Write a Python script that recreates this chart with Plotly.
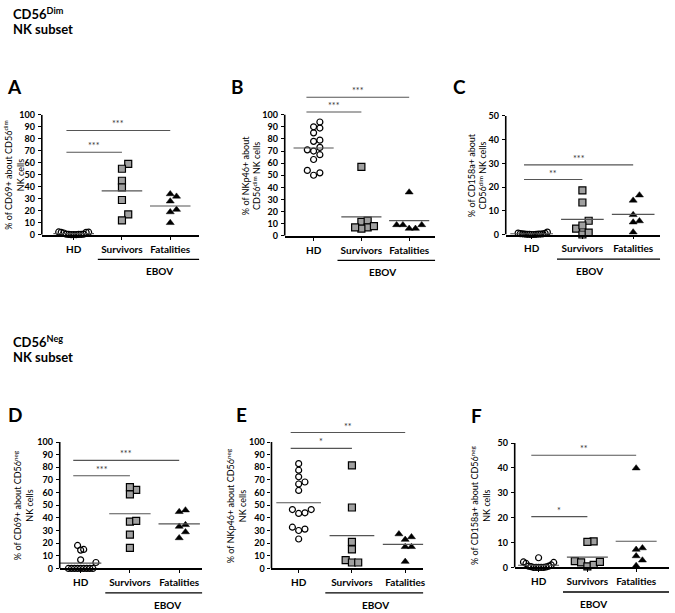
import numpy as np
import plotly.graph_objects as go

W, H = 675, 613
FONT = "Lato, 'Liberation Sans', Arial, sans-serif"

categories = ["HD", "Survivors", "Fatalities"]

# ---------------- data ----------------
# Panel A: % CD69+ about CD56dim NK cells
A_hd = [0.2, 0.3, 0.1, 0.4, 0.2, 0.3, 0.5, 0.6, 2.0, 2.2, 1.5, 2.4, 2.1]
A_surv = [59, 55, 45, 39.5, 29, 17, 12]
A_fat = [34, 32, 28, 21, 19, 10]
# Panel B: % NKp46+ about CD56dim NK cells
B_hd = [94, 90, 89, 85, 79, 78, 73, 71, 70, 67, 63, 54, 52, 50]
B_surv = [57, 11.5, 12.5, 7, 6, 7, 8]
B_fat = [36, 9, 9, 6, 6, 9]
# Panel C: % CD158a+ about CD56dim NK cells
C_hd = [0, 0.1, 0.2, 0.1, 0, 0.3, 0.2, 0.4, 0.5, 0.6, 1.0, 0.3, 0.2, 0.1]
C_surv = [18.6, 13.5, 5.8, 2.5, 3.8, 0, 0.8]
C_fat = [16.6, 14.4, 8.3, 5.7, 5.2, 1.0]
# Panel D: % CD69+ about CD56neg NK cells
D_hd = [15, 14.5, 18.2, 6.8, 4.7, 0, 0, 0, 0, 0, 0, 0, 0, 0]
D_surv = [62.2, 64.3, 58.6, 37, 37.6, 26.7, 16.3]
D_fat = [44.8, 46.1, 34.5, 33.2, 28.8, 24.1]
# Panel E: % NKp46+ about CD56neg NK cells
E_hd = [82.9, 77.7, 72.5, 66.8, 68.4, 61.7, 46.6, 43.5, 44, 46.6, 31.1, 30, 32.6, 23.3]
E_surv = [81.6, 48.2, 21, 15, 6.5, 4.7, 4.7]
E_fat = [27.2, 22.8, 24.9, 17.1, 17.1, 5.4]
# Panel F: % CD158a+ about CD56neg NK cells
F_hd = [3.9, 2.2, 1.6, 2.0, 1.0, 0.5, 0.3, 0, 0, 0, 0, 0.2, 0.5, 0]
F_surv = [10.5, 10.3, 2.5, 2.0, 0.4, 1.05, 2.2]
F_fat = [39.9, 7.2, 7.8, 4.6, 2.9, 0.7]

# significance comparisons: (group from, group to, y value, label)
A_sig = [(1, 2, 68.7, "***"), (1, 3, 86.9, "***")]
B_sig = [(1, 2, 102.2, "***"), (1, 3, 114.4, "***")]
C_sig = [(1, 2, 23.2, "**"), (1, 3, 29.4, "***")]
D_sig = [(1, 2, 73.3, "***"), (1, 3, 85.5, "***")]
E_sig = [(1, 2, 95, "*"), (1, 3, 107.5, "**")]
F_sig = [(1, 2, 20.4, "*"), (1, 3, 45.1, "**")]

A_title = "% of CD69+ about CD56<sup>dim</sup><br>NK cells"
B_title = "% of NKp46+ about<br>CD56<sup>dim</sup> NK cells"
C_title = "% of CD158a+ about<br>CD56<sup>dim</sup> NK cells"
D_title = "% of CD69+ about CD56<sup>neg</sup><br>NK cells"
E_title = "% of NKp46+ about CD56<sup>neg</sup><br>NK cells"
F_title = "% of CD158a+ about CD56<sup>neg</sup><br>NK cells"

# ---------------- layout geometry (pixels) ----------------
panels = [
    dict(letter="A", data=[A_hd, A_surv, A_fat], sig=A_sig, title=A_title, ymaxtick=100, ystep=10,
         left=42, right=200, c1=74, sp=48.5, y0=233, unit=1.223, ytop=100, lx=15, ly=82, tx=14),
    dict(letter="B", data=[B_hd, B_surv, B_fat], sig=B_sig, title=B_title, ymaxtick=100, ystep=10,
         left=286, right=437, c1=315, sp=48, y0=234, unit=1.233, ytop=123, lx=239, ly=82, tx=252),
    dict(letter="C", data=[C_hd, C_surv, C_fat], sig=C_sig, title=C_title, ymaxtick=50, ystep=10,
         left=508, right=663, c1=534, sp=51, y0=232.7, unit=2.414, ytop=50, lx=462, ly=82, tx=479),
    dict(letter="D", data=[D_hd, D_surv, D_fat], sig=D_sig, title=D_title, ymaxtick=100, ystep=10,
         left=60, right=203, c1=81, sp=49.5, y0=572.7, unit=1.287, ytop=100, lx=15, ly=416, tx=23),
    dict(letter="E", data=[E_hd, E_surv, E_fat], sig=E_sig, title=E_title, ymaxtick=100, ystep=10,
         left=272.7, right=425, c1=300, sp=53.5, y0=572.7, unit=1.287, ytop=117, lx=242.5, ly=416, tx=237),
    dict(letter="F", data=[F_hd, F_surv, F_fat], sig=F_sig, title=F_title, ymaxtick=50, ystep=10,
         left=517, right=672, c1=541, sp=49, y0=571.7, unit=2.534, ytop=50, lx=479, ly=417, tx=482),
]

markers = [
    dict(symbol="circle-open", size=6, color="black", line=dict(color="black", width=1.2)),
    dict(symbol="square", size=7, color="#a0a0a0", line=dict(color="black", width=1.2)),
    dict(symbol="triangle-up", size=7, color="black", line=dict(color="black", width=0.5)),
]


def swarm(values, unit_px, d=6.3, limit=18.0):
    """Beeswarm offsets (pixels) for a column scatter."""
    vals = np.asarray(values, dtype=float)
    order = np.argsort(vals, kind="stable")
    placed = []
    offs = np.zeros(len(vals))
    cands = [0.0]
    for m in range(1, 40):
        cands += [m * d, -m * d]
    for i in order:
        y = vals[i] * unit_px
        for c in cands:
            if all((c - px) ** 2 + (y - py) ** 2 >= (d * d) * 0.95 for px, py in placed):
                break
        placed.append((c, y))
        offs[i] = c
    mx = np.max(np.abs(offs)) if len(offs) else 0
    if mx > limit:
        offs = offs * limit / mx
    return offs


def px2paper_x(px):
    return px / W


def px2paper_y(py):
    return 1 - py / H


fig = go.Figure()
layout = dict(width=W, height=H, margin=dict(l=0, r=0, t=0, b=0),
              paper_bgcolor="white", plot_bgcolor="white", showlegend=False,
              font=dict(family=FONT, color="black"))
shapes = []
annotations = []

for i, p in enumerate(panels, start=1):
    xa = "xaxis" if i == 1 else f"xaxis{i}"
    ya = "yaxis" if i == 1 else f"yaxis{i}"
    xr = "x" if i == 1 else f"x{i}"
    yr = "y" if i == 1 else f"y{i}"
    xmin = 1 + (p["left"] - p["c1"]) / p["sp"]
    xmax = 1 + (p["right"] - p["c1"]) / p["sp"]
    ytop_px = p["y0"] - p["ytop"] * p["unit"]
    layout[xa] = dict(domain=[px2paper_x(p["left"]), px2paper_x(p["right"])],
                      range=[xmin, xmax], anchor=yr, showgrid=False, zeroline=False,
                      showline=True, linecolor="black", linewidth=1.6,
                      tickvals=[1, 2, 3], ticktext=[f"<b>{c}</b>" for c in categories],
                      ticks="outside", ticklen=3, tickwidth=1, tickcolor="black",
                      tickfont=dict(family=FONT, size=10, color="black"),
                      ticklabelstandoff=1, fixedrange=True)
    yt = list(range(0, p["ymaxtick"] + 1, p["ystep"]))
    layout[ya] = dict(domain=[px2paper_y(p["y0"]), px2paper_y(ytop_px)],
                      range=[0, p["ytop"]], anchor=xr, showgrid=False, zeroline=False,
                      showline=False, tickvals=yt, ticktext=[f"<b>{v}</b>" for v in yt],
                      ticks="outside", ticklen=3, tickwidth=1, tickcolor="black",
                      tickfont=dict(family=FONT, size=9, color="black"),
                      ticklabelstandoff=1, fixedrange=True)
    # y axis line 0..max tick
    shapes.append(dict(type="line", xref=f"{xr} domain", yref=yr, x0=0, x1=0,
                       y0=0, y1=p["ymaxtick"], line=dict(color="black", width=1.6)))

    # points + mean lines
    for g, vals in enumerate(p["data"]):
        cx = g + 1
        offs = swarm(vals, p["unit"], limit=0.31 * p["sp"])
        xs = cx + offs / p["sp"]
        fig.add_trace(go.Scatter(x=xs, y=vals, mode="markers", marker=markers[g],
                                 xaxis=xr, yaxis=yr, cliponaxis=False, hoverinfo="skip"))
        m = float(np.mean(vals))
        fig.add_trace(go.Scatter(x=[cx - 0.42, cx + 0.42], y=[m, m], mode="lines",
                                 line=dict(color="#555555", width=1.2),
                                 xaxis=xr, yaxis=yr, hoverinfo="skip"))

    # significance bars
    for g1, g2, yv, lab in p["sig"]:
        x0, x1 = g1 - 0.15, g2
        fig.add_trace(go.Scatter(x=[x0, x1], y=[yv, yv], mode="lines",
                                 line=dict(color="#555555", width=1.1),
                                 xaxis=xr, yaxis=yr, hoverinfo="skip"))
        annotations.append(dict(x=(x0 + x1) / 2, y=yv, xref=xr, yref=yr, text=lab,
                                showarrow=False, yanchor="bottom", yshift=-1,
                                font=dict(family=FONT, size=9, color="#333333")))

    # EBOV bracket under survivors + fatalities
    def xpaper(xv):
        return px2paper_x(p["left"] + (xv - xmin) * p["sp"])
    ely = p["y0"] + 25
    shapes.append(dict(type="line", xref="paper", yref="paper",
                       x0=xpaper(1.5), x1=px2paper_x(p["right"]),
                       y0=px2paper_y(ely), y1=px2paper_y(ely),
                       line=dict(color="black", width=1.3)))
    annotations.append(dict(x=xpaper(2.45), y=px2paper_y(ely + 12), xref="paper", yref="paper",
                            text="<b>EBOV</b>", showarrow=False, yanchor="middle",
                            font=dict(family=FONT, size=10, color="black")))

    # y axis title
    annotations.append(dict(x=px2paper_x(p["tx"]), y=px2paper_y(p["y0"] - p["ymaxtick"] * p["unit"] / 2),
                            xref="paper", yref="paper", text=p["title"], textangle=-90,
                            showarrow=False, xanchor="center", yanchor="middle",
                            font=dict(family=FONT, size=9, color="black")))
    # panel letter
    annotations.append(dict(x=px2paper_x(p["lx"]), y=px2paper_y(p["ly"]), xref="paper", yref="paper",
                            text=f"<b>{p['letter']}</b>", showarrow=False,
                            xanchor="center", yanchor="middle",
                            font=dict(family=FONT, size=19, color="black")))

# section headers
for txt, yy in [("<b>CD56<sup>Dim</sup></b>", 8), ("<b>NK subset</b>", 23),
                ("<b>CD56<sup>Neg</sup></b>", 342), ("<b>NK subset</b>", 357)]:
    annotations.append(dict(x=px2paper_x(11), y=px2paper_y(yy), xref="paper", yref="paper",
                            text=txt, showarrow=False, xanchor="left", yanchor="middle",
                            font=dict(family=FONT, size=13, color="black")))

layout["shapes"] = shapes
layout["annotations"] = annotations
fig.update_layout(**layout)
fig.write_html("out.html", config={"displayModeBar": False},
               post_script="document.body.style.margin='0';document.body.style.padding='0';")
